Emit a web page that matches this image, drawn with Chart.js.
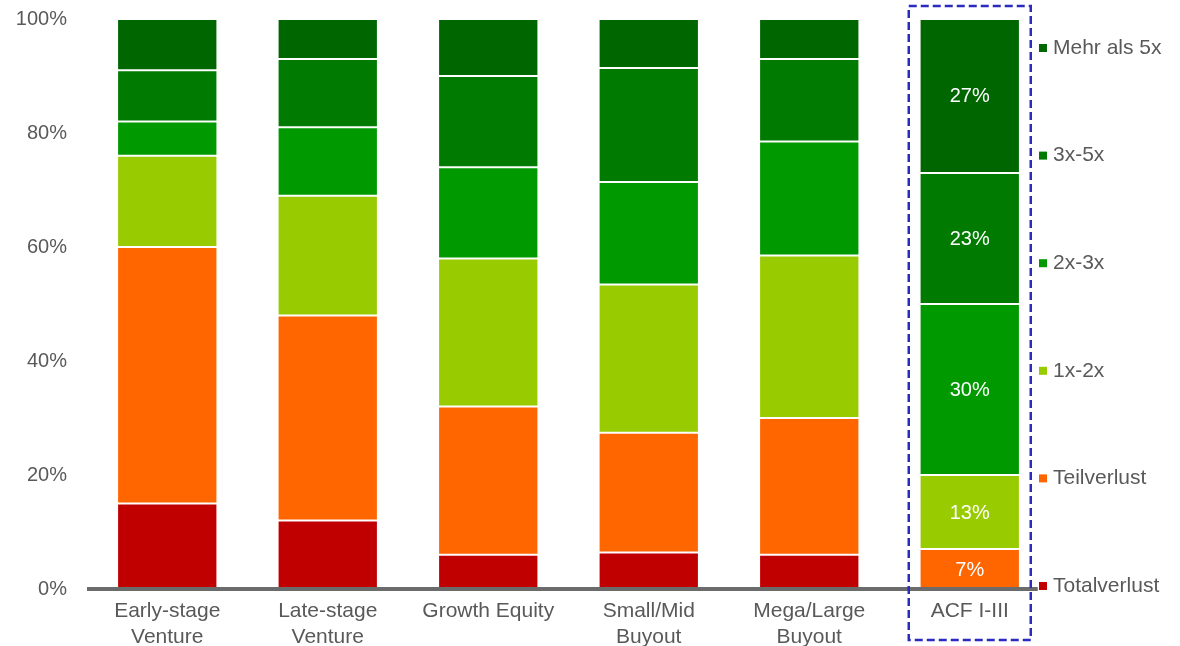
<!DOCTYPE html>
<html>
<head>
<meta charset="utf-8">
<script src="https://cdn.jsdelivr.net/npm/chart.js@4/dist/chart.umd.min.js"></script>
<style>
  html, body { margin: 0; padding: 0; background: #ffffff; }
  #wrap { width: 1180px; height: 646px; position: relative; }
</style>
</head>
<body>
<div id="wrap"><canvas id="c" width="1180" height="646"></canvas></div>
<script>
const categories = [['Early-stage', 'Venture'], ['Late-stage', 'Venture'], 'Growth Equity', ['Small/Mid', 'Buyout'], ['Mega/Large', 'Buyout'], 'ACF I-III'];
const seriesNames = ['Totalverlust', 'Teilverlust', '1x-2x', '2x-3x', '3x-5x', 'Mehr als 5x'];
const totalverlust = [15, 12, 6, 6.4, 6, 0];
const teilverlust  = [45, 36, 26, 21, 24, 7];
const x1to2        = [16, 21, 26, 26, 28.5, 13];
const x2to3        = [6, 12, 16, 18, 20, 30];
const x3to5        = [9, 12, 16, 20, 14.5, 23];
const mehrAls5     = [9, 7, 10, 8.6, 7, 27];
const yTicks = [0, 20, 40, 60, 80, 100];
const labelledCategory = 5; // ACF I-III shows value labels

const seriesValues = [totalverlust, teilverlust, x1to2, x2to3, x3to5, mehrAls5];
const seriesColors = ['#c00000', '#ff6600', '#99cc00', '#009900', '#007a00', '#006600'];
const textColor = '#595959';
const fontFamily = '"Liberation Sans", Arial, sans-serif';

const datasets = seriesNames.map((name, i) => ({
  label: name,
  data: seriesValues[i],
  backgroundColor: seriesColors[i],
  borderColor: '#ffffff',
  borderWidth: 1,
  borderSkipped: false,
  barPercentage: 0.625,
  categoryPercentage: 1.0
}));

const extrasPlugin = {
  id: 'extras',
  afterDatasetsDraw(chart) {
    const ctx = chart.ctx;
    const xs = chart.scales.x;
    const ys = chart.scales.y;
    const area = chart.chartArea;

    // axis line
    ctx.save();
    ctx.strokeStyle = '#6b6b6b';
    ctx.lineWidth = 4;
    ctx.beginPath();
    const y0 = ys.getPixelForValue(0);
    ctx.moveTo(area.left, y0);
    ctx.lineTo(xs.getPixelForValue(categories.length - 1) + 68, y0);
    ctx.stroke();
    ctx.restore();

    // value labels for ACF
    ctx.save();
    ctx.fillStyle = '#ffffff';
    ctx.font = '20px ' + fontFamily;
    ctx.textAlign = 'center';
    ctx.textBaseline = 'middle';
    chart.data.datasets.forEach((ds, di) => {
      const meta = chart.getDatasetMeta(di);
      const el = meta.data[labelledCategory];
      const v = ds.data[labelledCategory];
      if (!el || !v) return;
      const cy = (el.y + el.base) / 2;
      ctx.fillText(Math.round(v) + '%', el.x, cy + 1);
    });
    ctx.restore();

    // dashed box round ACF
    ctx.save();
    ctx.strokeStyle = '#2b2bc0';
    ctx.lineWidth = 2.5;
    ctx.setLineDash([8, 4]);
    const cx = xs.getPixelForValue(labelledCategory);
    ctx.strokeRect(cx - 61, area.top - 13, 122, 634);
    ctx.restore();

    // legend (top: last series)
    ctx.save();
    ctx.font = '21px ' + fontFamily;
    ctx.textBaseline = 'middle';
    ctx.textAlign = 'left';
    const n = seriesNames.length;
    const topY = area.top + 29;
    const botY = area.bottom - 3;
    const step = (botY - topY) / (n - 1);
    for (let k = 0; k < n; k++) {
      const si = n - 1 - k;
      const y = topY + k * step;
      ctx.fillStyle = seriesColors[si];
      ctx.fillRect(area.right - 11, y - 4, 8, 8);
      ctx.fillStyle = textColor;
      ctx.fillText(seriesNames[si], area.right + 3, y);
    }
    ctx.restore();
  }
};

new Chart(document.getElementById('c'), {
  type: 'bar',
  data: { labels: categories, datasets: datasets },
  options: {
    responsive: false,
    animation: false,
    layout: { padding: { top: 19, right: 130, left: 0, bottom: 0 } },
    plugins: { legend: { display: false }, tooltip: { enabled: false } },
    scales: {
      x: {
        stacked: true,
        grid: { display: false, drawTicks: false },
        border: { display: false },
        ticks: { color: textColor, font: { family: fontFamily, size: 21 }, padding: 10, maxRotation: 0, autoSkip: false },
        afterFit(scale) { scale.height = 57; }
      },
      y: {
        stacked: true,
        min: 0,
        max: 100,
        afterBuildTicks(scale) { scale.ticks = yTicks.map(v => ({ value: v })); },
        grid: { display: false, drawTicks: false },
        border: { display: false },
        ticks: {
          color: textColor,
          font: { family: fontFamily, size: 20 },
          padding: 20,
          callback: v => v + '%'
        },
        afterFit(scale) { scale.width = 87; scale.paddingTop = 0; scale.paddingBottom = 0; }
      }
    }
  },
  plugins: [extrasPlugin]
});
</script>
</body>
</html>
